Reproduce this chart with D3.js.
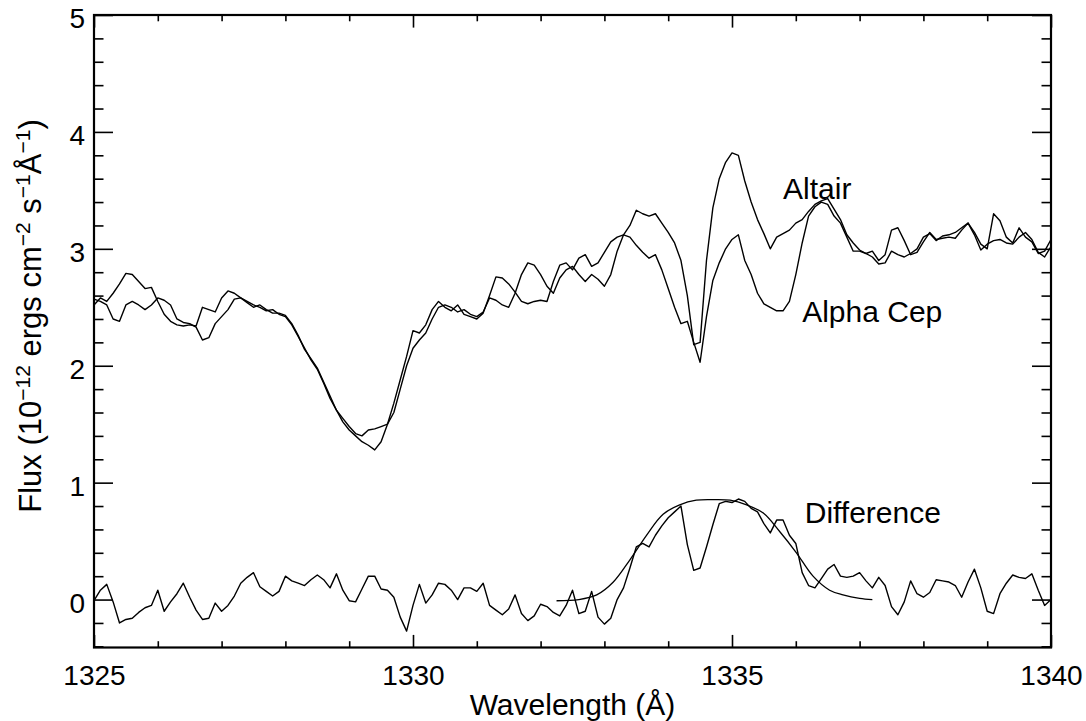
<!DOCTYPE html>
<html>
<head>
<meta charset="utf-8">
<script src="https://cdn.jsdelivr.net/npm/d3@7"></script>
<style>
  body { margin: 0; background: #fff; }
  text { font-family: "Liberation Sans", Arial, Helvetica, sans-serif; fill: #000; }
</style>
</head>
<body>
<svg id="chart" width="1086" height="721"></svg>
<script>
// spectra sampled every 0.1 A from 1325 to 1340
var wlStart = 1325, wlStep = 0.1;

var altair = [
  2.57, 2.55, 2.52, 2.40, 2.38, 2.52, 2.55, 2.52, 2.48, 2.52,
  2.58, 2.56, 2.52, 2.40, 2.37, 2.36, 2.33, 2.22, 2.24, 2.36,
  2.42, 2.48, 2.57, 2.58, 2.54, 2.50, 2.52, 2.48, 2.45, 2.45,
  2.43, 2.36, 2.26, 2.14, 2.06, 1.98, 1.86, 1.74, 1.62, 1.55,
  1.48, 1.42, 1.40, 1.45, 1.46, 1.48, 1.50, 1.60, 1.80, 2.00,
  2.15, 2.22, 2.28, 2.40, 2.50, 2.52, 2.50, 2.46, 2.48, 2.44,
  2.42, 2.46, 2.58, 2.56, 2.52, 2.50, 2.62, 2.78, 2.88, 2.86,
  2.78, 2.68, 2.62, 2.75, 2.82, 2.85, 2.78, 2.72, 2.78, 2.74,
  2.68, 2.78, 2.98, 3.12, 3.20, 3.33, 3.30, 3.28, 3.30, 3.22,
  3.14, 3.05, 2.90, 2.60, 2.18, 2.20, 2.90, 3.35, 3.60, 3.74,
  3.82, 3.80, 3.58, 3.40, 3.25, 3.13, 3.00, 3.10, 3.13, 3.16,
  3.22, 3.25, 3.32, 3.38, 3.41, 3.43, 3.34, 3.25, 3.12, 3.05,
  2.99, 2.96, 2.98, 2.90, 2.95, 3.16, 3.18, 3.07, 2.95, 2.97,
  3.06, 3.14, 3.08, 3.09, 3.10, 3.09, 3.16, 3.22, 3.14, 3.04,
  3.00, 3.30, 3.24, 3.10, 3.05, 3.18, 3.10, 3.06, 2.96, 2.98, 3.08
];

var alphaCep = [
  2.52, 2.58, 2.55, 2.62, 2.70, 2.79, 2.78, 2.72, 2.66, 2.67,
  2.55, 2.44, 2.38, 2.35, 2.34, 2.35, 2.34, 2.50, 2.48, 2.46,
  2.58, 2.64, 2.62, 2.58, 2.55, 2.52, 2.50, 2.47, 2.48, 2.44,
  2.42, 2.35, 2.25, 2.15, 2.05, 1.97, 1.85, 1.72, 1.62, 1.52,
  1.45, 1.40, 1.35, 1.32, 1.28, 1.35, 1.50, 1.68, 1.88, 2.08,
  2.30, 2.28, 2.35, 2.48, 2.55, 2.50, 2.47, 2.52, 2.44, 2.42,
  2.40, 2.45, 2.60, 2.76, 2.75, 2.70, 2.63, 2.55, 2.53, 2.55,
  2.56, 2.55, 2.72, 2.86, 2.88, 2.82, 2.92, 2.95, 2.85, 2.88,
  2.97, 3.06, 3.10, 3.12, 3.10, 3.03, 2.97, 2.92, 2.95, 2.82,
  2.66, 2.50, 2.36, 2.38, 2.20, 2.03, 2.42, 2.73, 2.88, 3.00,
  3.08, 3.12, 2.90, 2.78, 2.62, 2.53, 2.50, 2.47, 2.47, 2.55,
  2.78, 3.05, 3.28, 3.36, 3.40, 3.38, 3.28, 3.22, 3.10, 2.98,
  2.98, 2.96, 2.93, 2.87, 2.88, 2.98, 2.95, 2.93, 2.96, 3.00,
  3.10, 3.13, 3.07, 3.11, 3.12, 3.14, 3.18, 3.22, 3.12, 2.99,
  3.04, 3.07, 3.08, 3.05, 3.04, 3.10, 3.14, 3.08, 2.97, 2.93, 3.02
];

var difference = [
  -0.01, 0.08, 0.13, -0.02, -0.20, -0.17, -0.16, -0.11, -0.07, -0.05,
  0.08, -0.10, -0.02, 0.05, 0.14, 0.02, -0.09, -0.17, -0.16, -0.03,
  -0.10, -0.05, 0.03, 0.14, 0.19, 0.23, 0.11, 0.07, 0.03, 0.07,
  0.20, 0.16, 0.14, 0.12, 0.17, 0.21, 0.17, 0.10, 0.22, 0.08,
  -0.01, -0.02, 0.09, 0.20, 0.20, 0.09, 0.08, 0.02, -0.15, -0.27,
  -0.05, 0.13, -0.03, 0.04, 0.14, 0.13, 0.08, 0.00, 0.10, 0.10,
  0.07, 0.14, -0.05, -0.09, -0.13, -0.08, 0.04, -0.12, -0.18, -0.14,
  -0.04, -0.06, -0.11, -0.14, -0.05, 0.08, -0.12, -0.10, 0.07, -0.15,
  -0.21, -0.16, 0.00, 0.10, 0.27, 0.45, 0.48, 0.45, 0.55, 0.63,
  0.70, 0.75, 0.80, 0.47, 0.25, 0.27, 0.45, 0.64, 0.82, 0.84,
  0.83, 0.86, 0.84, 0.78, 0.75, 0.65, 0.57, 0.68, 0.68, 0.55,
  0.48, 0.23, 0.12, 0.10, 0.18, 0.26, 0.30, 0.20, 0.19, 0.20,
  0.23, 0.16, 0.10, 0.19, 0.12, -0.06, -0.13, -0.02, 0.16, 0.05,
  0.02, 0.06, 0.17, 0.16, 0.15, 0.12, 0.02, 0.15, 0.26, 0.10,
  -0.10, -0.12, 0.05, 0.14, 0.21, 0.19, 0.18, 0.22, 0.08, -0.05, 0.00
];

// gaussian fit to the difference
var fitWl =   [1332.25, 1332.6, 1332.88, 1333.14, 1333.4, 1333.66, 1333.92, 1334.18, 1334.44,
               1334.7, 1334.97, 1335.23, 1335.49, 1335.75, 1336.01, 1336.27, 1336.53, 1336.74, 1337.0, 1337.2];
var fitFlux = [-0.01, 0.0, 0.04, 0.15, 0.34, 0.55, 0.73, 0.81, 0.85,
               0.855, 0.85, 0.81, 0.74, 0.58, 0.40, 0.20, 0.08, 0.04, 0.01, 0.0];

var xMajor = [1325, 1330, 1335, 1340];
var yMajor = [0, 1, 2, 3, 4, 5];

var labels = [
  {text: "Altair", wl: 1335.8, flux: 3.43},
  {text: "Alpha Cep", wl: 1336.1, flux: 2.37},
  {text: "Difference", wl: 1336.14, flux: 0.655}
];

// plot box (note: "top" clashes with window.top, so use other names)
var boxL = 94, boxR = 1051, boxT = 15, boxB = 647.5;

var svg = d3.select("#chart");
svg.append("rect").attr("width", 1086).attr("height", 721).attr("fill", "#fff");

var x = d3.scaleLinear().domain([1325, 1340]).range([boxL, boxR]);
var y = d3.scaleLinear().domain([-0.41, 5]).range([boxB, boxT]);

var xMinor = d3.range(1325, 1341, 1).filter(function(d) { return xMajor.indexOf(d) == -1; });
var yMinor = d3.range(-2, 25, 1).map(function(d) { return d / 5; }).filter(function(d) { return d % 1 != 0; });

// IDL style ticks: inward on all four sides
var xLen = 12.6, yLen = 19;

function styleAxis(g) {
  g.select(".domain").remove();
  g.selectAll("line").attr("stroke", "#000").attr("stroke-width", 1.6);
  g.selectAll("text").attr("font-size", 28).attr("font-family", "Liberation Sans, Arial, sans-serif").attr("fill", "#000");
}

svg.append("g").attr("transform", "translate(0," + boxB + ")")
  .call(d3.axisBottom(x).tickValues(xMajor).tickSize(-xLen).tickPadding(17.5).tickFormat(d3.format("d")))
  .call(styleAxis);
svg.append("g").attr("transform", "translate(0," + boxB + ")")
  .call(d3.axisBottom(x).tickValues(xMinor).tickSize(-xLen / 2).tickFormat(""))
  .call(styleAxis);
svg.append("g").attr("transform", "translate(0," + boxT + ")")
  .call(d3.axisTop(x).tickValues(xMajor).tickSize(-xLen).tickFormat(""))
  .call(styleAxis);
svg.append("g").attr("transform", "translate(0," + boxT + ")")
  .call(d3.axisTop(x).tickValues(xMinor).tickSize(-xLen / 2).tickFormat(""))
  .call(styleAxis);

svg.append("g").attr("transform", "translate(" + boxL + ",0)")
  .call(d3.axisLeft(y).tickValues(yMajor).tickSize(-yLen).tickPadding(9).tickFormat(d3.format("d")))
  .call(styleAxis)
  .selectAll("text").attr("dy", "0.45em");
svg.append("g").attr("transform", "translate(" + boxL + ",0)")
  .call(d3.axisLeft(y).tickValues(yMinor).tickSize(-yLen / 2).tickFormat(""))
  .call(styleAxis);
svg.append("g").attr("transform", "translate(" + boxR + ",0)")
  .call(d3.axisRight(y).tickValues(yMajor).tickSize(-yLen).tickFormat(""))
  .call(styleAxis);
svg.append("g").attr("transform", "translate(" + boxR + ",0)")
  .call(d3.axisRight(y).tickValues(yMinor).tickSize(-yLen / 2).tickFormat(""))
  .call(styleAxis);

// frame
svg.append("rect")
  .attr("x", boxL).attr("y", boxT)
  .attr("width", boxR - boxL).attr("height", boxB - boxT)
  .attr("fill", "none").attr("stroke", "#000").attr("stroke-width", 2.2);

var line = d3.line()
  .x(function(d, i) { return x(wlStart + i * wlStep); })
  .y(function(d) { return y(d); });

[altair, alphaCep, difference].forEach(function(s) {
  svg.append("path").datum(s)
    .attr("d", line)
    .attr("fill", "none").attr("stroke", "#000")
    .attr("stroke-width", 1.4).attr("stroke-linejoin", "round");
});

var fitLine = d3.line()
  .x(function(d, i) { return x(fitWl[i]); })
  .y(function(d) { return y(d); })
  .curve(d3.curveCatmullRom);

svg.append("path").datum(fitFlux)
  .attr("d", fitLine)
  .attr("fill", "none").attr("stroke", "#000").attr("stroke-width", 1.3);

svg.selectAll(".lbl").data(labels).enter().append("text")
  .attr("class", "lbl")
  .attr("x", function(d) { return x(d.wl); })
  .attr("y", function(d) { return y(d.flux); })
  .attr("font-size", 30)
  .text(function(d) { return d.text; });

// axis titles
svg.append("text")
  .attr("x", (boxL + boxR) / 2).attr("y", 715)
  .attr("text-anchor", "middle").attr("font-size", 30)
  .text("Wavelength (\u00c5)");

var yt = svg.append("text")
  .attr("transform", "translate(41," + 316 + ") rotate(-90)")
  .attr("text-anchor", "middle").attr("font-size", 31);
var parts = [["Flux (10", 0], ["\u221212", 1], [" ergs cm", 0], ["\u22122", 1], [" s", 0], ["\u22121", 1], ["\u00c5", 0], ["\u22121", 1], [")", 0]];
var up = false;
parts.forEach(function(p) {
  var t = yt.append("tspan").text(p[0]);
  if (p[1]) { t.attr("font-size", 21).attr("dy", -11); up = true; }
  else if (up) { t.attr("dy", 11); up = false; }
});
</script>
</body>
</html>
